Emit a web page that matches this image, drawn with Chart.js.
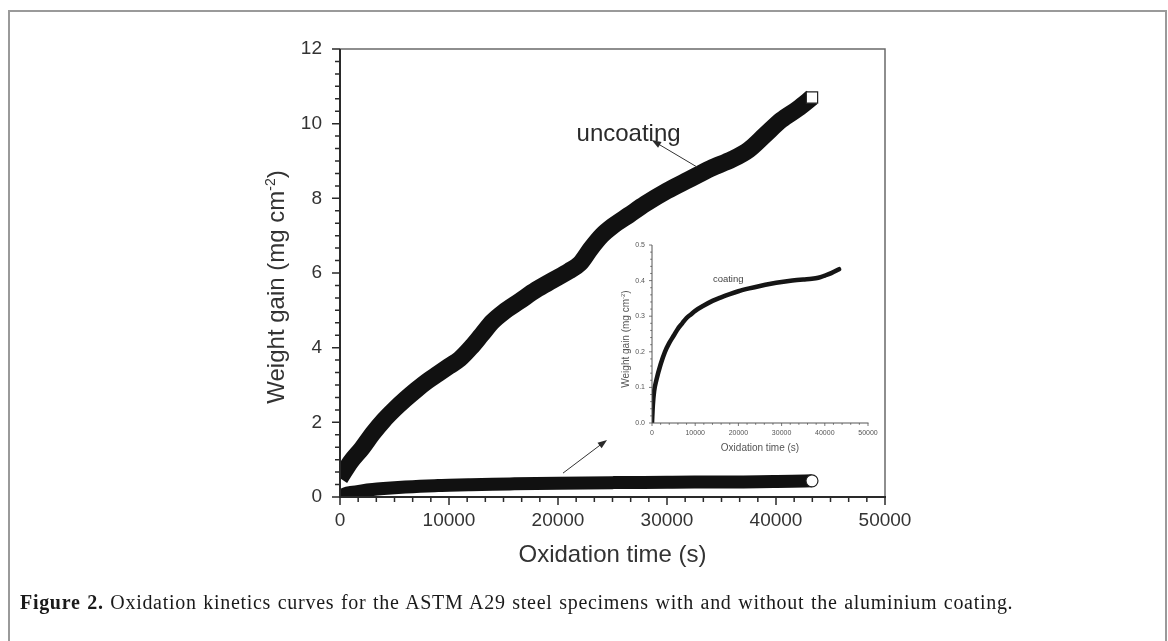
<!DOCTYPE html>
<html>
<head>
<meta charset="utf-8">
<script src="https://cdn.jsdelivr.net/npm/chart.js@4.4.1/dist/chart.umd.min.js"></script>
<style>
  body { margin: 0; background: #fff; width: 1168px; height: 641px; overflow: hidden; position: relative; }
  #frame { position: absolute; left: 8px; top: 10px; width: 1155px; height: 700px; border: 2px solid #9a9a9a; border-bottom: none; }
  #main { position: absolute; left: 0; top: 0; }
  #inset { position: absolute; left: 600px; top: 236px; }
  #caption { position: absolute; left: 20px; top: 591px; font-family: "Liberation Serif", "DejaVu Serif", serif; font-size: 20px; letter-spacing: 0.7px; word-spacing: 1px; color: #1a1a1a; white-space: nowrap; }
</style>
</head>
<body>
<div id="frame"></div>
<canvas id="main" width="1168" height="641"></canvas>
<canvas id="inset" width="290" height="220"></canvas>
<div id="caption"><b>Figure 2.</b> Oxidation kinetics curves for the ASTM A29 steel specimens with and without the aluminium coating.</div>
<script>
// oxidation time (s) and weight gain (mg cm-2)
const timeUncoated = [0, 1000, 2000, 3000, 4000, 5000, 6000, 7000, 8000, 9000, 10000, 11000, 12000, 13000, 14000, 15000,
  16500, 18000, 19500, 21000, 22000, 23000, 24000, 25000, 26500, 28000, 30000, 32000, 34000, 36000, 37500, 39000, 40500, 42000, 43300];
const gainUncoated = [0.5, 0.95, 1.3, 1.7, 2.05, 2.35, 2.62, 2.87, 3.1, 3.3, 3.5, 3.7, 4.0, 4.35, 4.7, 4.95,
  5.25, 5.55, 5.8, 6.05, 6.25, 6.65, 7.0, 7.25, 7.55, 7.85, 8.2, 8.5, 8.8, 9.05, 9.3, 9.7, 10.1, 10.4, 10.7];

const timeCoated = [0, 200, 500, 1000, 2000, 3000, 4000, 5000, 6000, 7000, 8000, 9000, 10000, 12000, 14000, 16000,
  18000, 20000, 22500, 25000, 27500, 30000, 32500, 35000, 37000, 38500, 40000, 41500, 43300];
const gainCoated = [0, 0.05, 0.09, 0.12, 0.165, 0.2, 0.225, 0.245, 0.265, 0.28, 0.295, 0.305, 0.315, 0.33, 0.343, 0.353,
  0.362, 0.37, 0.378, 0.385, 0.391, 0.396, 0.4, 0.403, 0.405, 0.408, 0.414, 0.421, 0.432];

const mainXTicks = [0, 50000, 10000];   // min, max, step
const mainYTicks = [0, 12, 2];
const insetXTicks = [0, 50000, 10000];
const insetYTicks = [0, 0.5, 0.1];

const FONT = '"Liberation Sans", Arial, sans-serif';
const pts = (xs, ys) => xs.map((t, i) => ({ x: t, y: ys[i] }));
const lastOnly = r => ctx => (ctx.dataIndex === ctx.dataset.data.length - 1 ? r : 0);

// axis lines, ticks (major + minor), frame and titles
function axesPlugin(o) {
  return {
    id: 'axes',
    afterDraw(chart) {
      const { ctx, chartArea: a, scales: { x, y } } = chart;
      ctx.save();
      if (o.frame) {
        ctx.strokeStyle = o.frameColor;
        ctx.lineWidth = 1.5;
        ctx.beginPath();
        ctx.moveTo(a.left, a.top); ctx.lineTo(a.right, a.top); ctx.lineTo(a.right, a.bottom);
        ctx.stroke();
      }
      ctx.strokeStyle = o.axisColor;
      ctx.lineWidth = o.axisWidth;
      ctx.beginPath();
      ctx.moveTo(a.left, a.top); ctx.lineTo(a.left, a.bottom); ctx.lineTo(a.right + o.axisWidth / 2, a.bottom);
      ctx.stroke();

      ctx.lineWidth = o.tickWidth;
      ctx.beginPath();
      const [x0, x1, xs] = o.xTicks;
      const nx = Math.round((x1 - x0) / xs) * o.minor;
      for (let i = 0; i <= nx; i++) {
        const px = x.getPixelForValue(x0 + i * xs / o.minor);
        const len = i % o.minor === 0 ? o.major : o.minorLen;
        ctx.moveTo(px, a.bottom); ctx.lineTo(px, a.bottom + len);
      }
      const [y0, y1, ys] = o.yTicks;
      const ny = Math.round((y1 - y0) / ys) * o.minor;
      for (let i = 0; i <= ny; i++) {
        const py = y.getPixelForValue(y0 + i * ys / o.minor);
        const len = i % o.minor === 0 ? o.major : o.minorLen;
        ctx.moveTo(a.left, py); ctx.lineTo(a.left - len, py);
      }
      ctx.stroke();

      // titles
      ctx.fillStyle = o.textColor;
      ctx.font = o.titleSize + 'px ' + FONT;
      ctx.textAlign = 'center';
      ctx.textBaseline = 'alphabetic';
      ctx.fillText('Oxidation time (s)', (a.left + a.right) / 2, a.bottom + o.xTitleGap);

      const big = o.titleSize + 'px ' + FONT;
      const small = Math.round(o.titleSize * 0.6) + 'px ' + FONT;
      const parts = [['Weight gain (mg cm', big, 0], ['-2', small, -o.titleSize * 0.38], [')', big, 0]];
      let w = 0;
      parts.forEach(p => { ctx.font = p[1]; w += ctx.measureText(p[0]).width; });
      ctx.translate(a.left - o.yTitleGap, (a.top + a.bottom) / 2 + o.yTitleShift);
      ctx.rotate(-Math.PI / 2);
      ctx.textAlign = 'left';
      let cx = -w / 2;
      parts.forEach(p => {
        ctx.font = p[1];
        ctx.fillText(p[0], cx, o.titleSize * 0.36 + p[2]);
        cx += ctx.measureText(p[0]).width;
      });
      ctx.restore();
    }
  };
}

function arrow(ctx, x0, y0, x1, y1, head) {
  const ang = Math.atan2(y1 - y0, x1 - x0);
  ctx.beginPath();
  ctx.moveTo(x0, y0); ctx.lineTo(x1 - Math.cos(ang) * head * 0.8, y1 - Math.sin(ang) * head * 0.8);
  ctx.stroke();
  ctx.beginPath();
  ctx.moveTo(x1, y1);
  ctx.lineTo(x1 - head * Math.cos(ang - 0.35), y1 - head * Math.sin(ang - 0.35));
  ctx.lineTo(x1 - head * Math.cos(ang + 0.35), y1 - head * Math.sin(ang + 0.35));
  ctx.closePath();
  ctx.fill();
}

// label + arrows of the main plot, placed in data units
const mainNotes = {
  id: 'notes',
  afterDraw(chart) {
    const { ctx, scales: { x, y } } = chart;
    ctx.save();
    ctx.fillStyle = '#2a2a2a';
    ctx.strokeStyle = '#333';
    ctx.lineWidth = 1;
    ctx.font = '24px ' + FONT;
    ctx.fillText('uncoating', x.getPixelForValue(21700), y.getPixelForValue(9.54));
    arrow(ctx, x.getPixelForValue(32750), y.getPixelForValue(8.84), x.getPixelForValue(28600), y.getPixelForValue(9.56), 10);
    arrow(ctx, x.getPixelForValue(20460), y.getPixelForValue(0.64), x.getPixelForValue(24500), y.getPixelForValue(1.53), 10);
    ctx.restore();
  }
};

const insetNotes = {
  id: 'insetNotes',
  afterDraw(chart) {
    const { ctx, scales: { x, y } } = chart;
    ctx.save();
    ctx.fillStyle = '#444';
    ctx.font = '9.5px ' + FONT;
    ctx.fillText('coating', x.getPixelForValue(14100), y.getPixelForValue(0.397));
    ctx.restore();
  }
};

new Chart(document.getElementById('main'), {
  type: 'line',
  data: {
    datasets: [
      {
        label: 'uncoating', data: pts(timeUncoated, gainUncoated),
        borderColor: '#111', borderWidth: 17, borderCapStyle: 'butt', borderJoinStyle: 'round',
        cubicInterpolationMode: 'monotone', clip: { left: 0, bottom: 0, top: false, right: false },
        pointStyle: 'rect', pointRadius: lastOnly(8), pointBackgroundColor: '#fff', pointBorderColor: '#222', pointBorderWidth: 1.2
      },
      {
        label: 'coating', data: pts(timeCoated, gainCoated),
        borderColor: '#111', borderWidth: 13, borderCapStyle: 'butt', borderJoinStyle: 'round',
        cubicInterpolationMode: 'monotone', clip: { left: 0, bottom: 0, top: false, right: false },
        pointStyle: 'circle', pointRadius: lastOnly(6), pointBackgroundColor: '#fff', pointBorderColor: '#222', pointBorderWidth: 1.2
      }
    ]
  },
  options: {
    responsive: false,
    animation: false,
    devicePixelRatio: 1,
    layout: { padding: { left: 0, right: 283, top: 49, bottom: 104 } },
    plugins: { legend: { display: false }, tooltip: { enabled: false } },
    scales: {
      x: {
        type: 'linear', min: mainXTicks[0], max: mainXTicks[1],
        afterFit: s => { s.height = 40; },
        grid: { display: false, drawTicks: true, tickLength: 8 },
        border: { display: false },
        ticks: { stepSize: mainXTicks[2], padding: 4, color: '#333', font: { family: FONT, size: 19 }, callback: v => String(v), maxRotation: 0 }
      },
      y: {
        type: 'linear', min: mainYTicks[0], max: mainYTicks[1],
        afterFit: s => { s.width = 340; },
        grid: { display: false, drawTicks: true, tickLength: 8 },
        border: { display: false },
        ticks: { stepSize: mainYTicks[2], padding: 10, color: '#333', font: { family: FONT, size: 19 }, callback: v => String(v) }
      }
    }
  },
  plugins: [axesPlugin({
    frame: true, frameColor: '#6a6a6a', axisColor: '#2a2a2a', axisWidth: 2, tickWidth: 1.5,
    xTicks: mainXTicks, yTicks: mainYTicks, minor: 6, major: 8, minorLen: 5,
    textColor: '#333', titleSize: 24, xTitleGap: 65, yTitleGap: 65, yTitleShift: 14
  }), mainNotes]
});

new Chart(document.getElementById('inset'), {
  type: 'line',
  data: {
    datasets: [{
      label: 'coating', data: pts(timeCoated, gainCoated),
      borderColor: '#151515', borderWidth: 4.5, borderCapStyle: 'round',
      cubicInterpolationMode: 'monotone', pointRadius: 0,
      clip: { left: 0, bottom: 0, top: false, right: false }
    }]
  },
  options: {
    responsive: false,
    animation: false,
    devicePixelRatio: 1,
    layout: { padding: { left: 0, right: 22, top: 9, bottom: 8 } },
    plugins: { legend: { display: false }, tooltip: { enabled: false } },
    scales: {
      x: {
        type: 'linear', min: insetXTicks[0], max: insetXTicks[1],
        afterFit: s => { s.height = 25; },
        grid: { display: false, drawTicks: true, tickLength: 3 },
        border: { display: false },
        ticks: { stepSize: insetXTicks[2], padding: 3, color: '#555', font: { family: FONT, size: 7 }, callback: v => String(v), maxRotation: 0, autoSkip: false }
      },
      y: {
        type: 'linear', min: insetYTicks[0], max: insetYTicks[1],
        afterFit: s => { s.width = 52; },
        grid: { display: false, drawTicks: true, tickLength: 3 },
        border: { display: false },
        ticks: { stepSize: insetYTicks[2], padding: 4, color: '#555', font: { family: FONT, size: 7 }, callback: v => v.toFixed(1) }
      }
    }
  },
  plugins: [axesPlugin({
    frame: false, axisColor: '#555', axisWidth: 1, tickWidth: 0.8,
    xTicks: insetXTicks, yTicks: insetYTicks, minor: 5, major: 3, minorLen: 1.8,
    textColor: '#555', titleSize: 10, xTitleGap: 28, yTitleGap: 27, yTitleShift: 5
  }), insetNotes]
});
</script>
</body>
</html>
